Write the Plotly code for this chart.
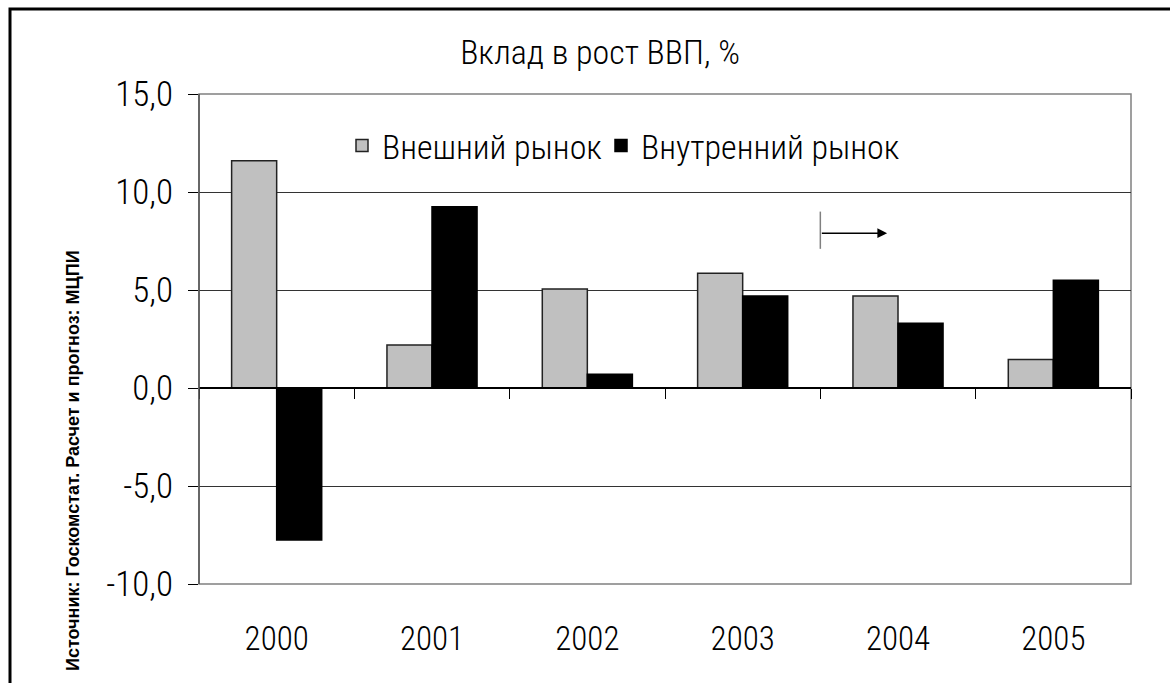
import plotly.graph_objects as go

years = ["2000", "2001", "2002", "2003", "2004", "2005"]
external = [11.6, 2.2, 5.05, 5.85, 4.7, 1.45]
internal = [-7.75, 9.25, 0.7, 4.7, 3.3, 5.5]
series_names = ["Внешний рынок", "Внутренний рынок"]
ytick_vals = [-10, -5, 0, 5, 10, 15]
ytick_text = ["-10,0", "-5,0", "0,0", "5,0", "10,0", "15,0"]
title_text = "Вклад в рост ВВП, %"
source_text = "Источник: Госкомстат. Расчет и прогноз: МЦПИ"

NARROW = "Roboto Condensed, Liberation Sans Narrow, Arial Narrow, sans-serif"

fig = go.Figure()
fig.add_trace(go.Bar(x=years, y=external, name=series_names[0], legend="legend",
                     marker=dict(color="#C0C0C0", line=dict(color="#222222", width=1.5))))
fig.add_trace(go.Bar(x=years, y=internal, name=series_names[1], legend="legend2",
                     marker=dict(color="#000000", line=dict(color="#000000", width=1.5))))

W, H = 1170, 683
L, R, T, B = 199, 39, 94, 99
pw, ph = W - L - R, H - T - B

def px(x):
    return (x - L) / pw

def py(y):
    return (H - B - y) / ph

def nfont(size):
    return dict(family=NARROW, size=size, color="black", weight=300)

fig.update_layout(
    width=W, height=H,
    margin=dict(l=L, r=R, t=T, b=B),
    paper_bgcolor="white", plot_bgcolor="white",
    barmode="group", bargap=0.42, bargroupgap=0,
    font=nfont(32),
    title=dict(text=title_text, x=px(600), xanchor="center", xref="paper",
               y=1 - 52 / H, yanchor="middle", font=nfont(34)),
    legend=dict(orientation="h", x=px(342), y=py(146), xanchor="left", yanchor="middle",
                font=nfont(34), bgcolor="rgba(0,0,0,0)", itemclick=False),
    legend2=dict(orientation="h", x=px(601), y=py(146), xanchor="left", yanchor="middle",
                 font=nfont(34), bgcolor="rgba(0,0,0,0)", itemclick=False),
    xaxis=dict(type="category", anchor="free", position=0.4,
               ticks="outside", ticklen=10, tickwidth=1, tickcolor="black",
               tickson="boundaries", showline=True, linecolor="black", linewidth=1.5,
               showgrid=False, zeroline=False, ticklabelstandoff=222,
               tickfont=nfont(33)),
    yaxis=dict(range=[-10, 15], tickvals=ytick_vals, ticktext=ytick_text,
               ticks="outside", ticklen=10, tickcolor="black", tickwidth=1,
               showgrid=True, gridcolor="#333333", gridwidth=1,
               zeroline=False, showline=False,
               tickfont=nfont(35), ticklabelstandoff=8),
    showlegend=True,
)

# plot-area frame
fig.add_shape(type="rect", xref="paper", yref="paper", x0=0, x1=1, y0=0, y1=1,
              line=dict(color="#808080", width=1.5), layer="below")
fig.add_shape(type="line", xref="paper", yref="paper", x0=0, x1=0, y0=0, y1=1,
              line=dict(color="#555555", width=1.5))
# outer border
fig.add_shape(type="rect", xref="paper", yref="paper",
              x0=px(10), x1=px(1190), y0=py(700), y1=py(9),
              line=dict(color="black", width=3))

# forecast marker
fig.add_shape(type="line", xref="x", yref="y", x0=3.5, x1=3.5, y0=7.1, y1=9.0,
              line=dict(color="#808080", width=1.5))
fig.add_annotation(x=3.93, y=7.9, ax=3.5, ay=7.9, xref="x", yref="y", axref="x", ayref="y",
                   showarrow=True, arrowhead=2, arrowsize=1.3, arrowwidth=1.5,
                   arrowcolor="black", text="")

# source note
fig.add_annotation(x=px(73), y=py(461), xref="paper", yref="paper",
                   xanchor="center", yanchor="middle",
                   text="<b>" + source_text + "</b>", textangle=-90, showarrow=False,
                   font=dict(family="Liberation Sans, Arial, sans-serif", size=18, color="black"))

fig.write_html("out.html", config={"displayModeBar": False},
               post_script="document.body.style.margin='0';document.body.style.overflow='hidden';")
